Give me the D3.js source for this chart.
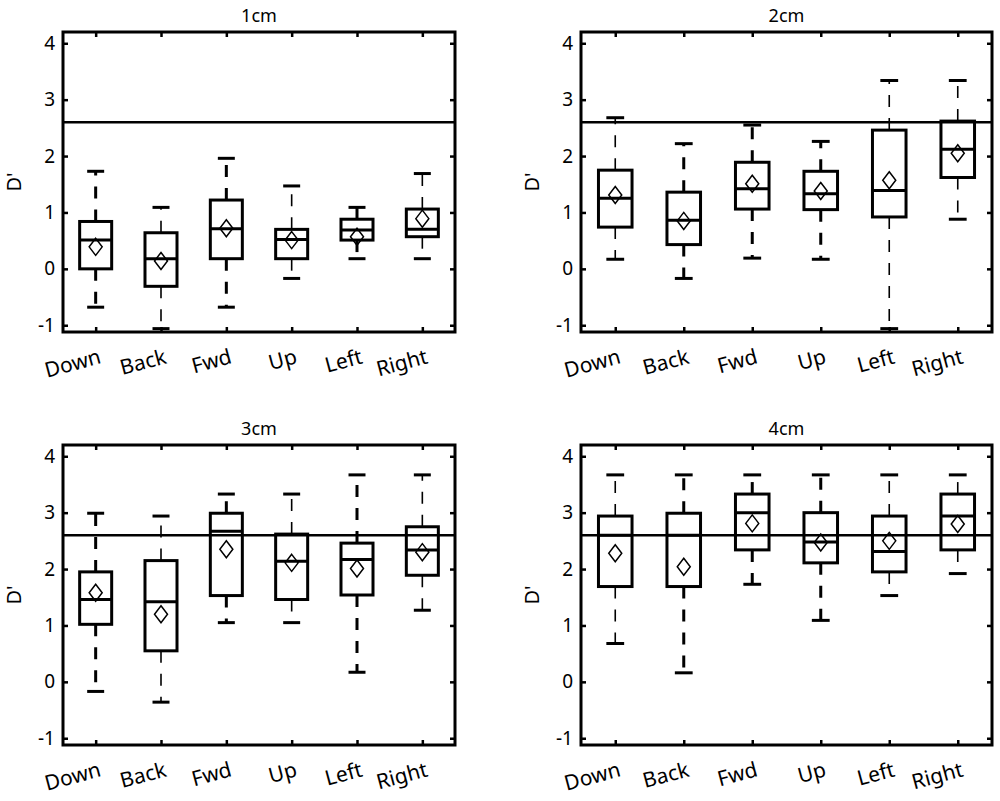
<!DOCTYPE html>
<html>
<head>
<meta charset="utf-8">
<script src="https://cdnjs.cloudflare.com/ajax/libs/d3/7.8.5/d3.min.js"></script>
<style>
    body { margin: 0; background: #fff; }
    svg { display: block; font-family: "Noto Sans", sans-serif; }
</style>
</head>
<body>
<svg id="chart" width="1000" height="801"></svg>
<script>

// data
var categories = ["Down", "Back", "Fwd", "Up", "Left", "Right"];
var panelTitles = ["1cm", "2cm", "3cm", "4cm"];
var yTicks = [-1, 0, 1, 2, 3, 4];
var threshold = 2.6;

var whiskerLow = [
    [-0.68, -1.06, -0.68, -0.17, 0.18, 0.18],
    [0.17, -0.17, 0.19, 0.17, -1.06, 0.88],
    [-0.17, -0.36, 1.05, 1.05, 0.17, 1.27],
    [0.68, 0.16, 1.73, 1.09, 1.53, 1.92]
];
var quartileLow = [
    [0.0, -0.31, 0.18, 0.18, 0.51, 0.57],
    [0.74, 0.43, 1.06, 1.05, 0.92, 1.62],
    [1.02, 0.55, 1.53, 1.46, 1.54, 1.89],
    [1.69, 1.69, 2.34, 2.11, 1.95, 2.34]
];
var medians = [
    [0.51, 0.18, 0.71, 0.52, 0.69, 0.70],
    [1.25, 0.86, 1.42, 1.33, 1.39, 2.12],
    [1.46, 1.42, 2.67, 2.14, 2.17, 2.34],
    [2.6, 2.6, 3.0, 2.48, 2.31, 2.94]
];
var quartileHigh = [
    [0.84, 0.64, 1.22, 0.70, 0.88, 1.06],
    [1.75, 1.36, 1.89, 1.73, 2.46, 2.62],
    [1.95, 2.15, 2.99, 2.62, 2.46, 2.75],
    [2.94, 2.99, 3.33, 3.0, 2.94, 3.33]
];
var whiskerHigh = [
    [1.73, 1.09, 1.96, 1.47, 1.09, 1.69],
    [2.68, 2.22, 2.55, 2.26, 3.34, 3.34],
    [2.99, 2.94, 3.33, 3.33, 3.67, 3.67],
    [3.67, 3.67, 3.67, 3.67, 3.67, 3.67]
];
var means = [
    [0.39, 0.14, 0.72, 0.51, 0.57, 0.89],
    [1.31, 0.85, 1.51, 1.38, 1.57, 2.05],
    [1.58, 1.20, 2.35, 2.11, 2.01, 2.30],
    [2.28, 2.04, 2.81, 2.47, 2.50, 2.80]
];

// stroke weight of the dashed whiskers (1 = heavy, 0 = light)
var heavyWhisker = [
    [1, 0, 1, 0, 1, 0],
    [0, 1, 1, 1, 0, 0],
    [1, 0, 1, 0, 1, 0],
    [0, 1, 1, 1, 0, 0]
];


class BoxPanel {

    constructor(svg, idx, rect) {

        this.svg = svg;
        this.idx = idx;
        this.width = rect.width;
        this.height = rect.height;

        this.g = svg.append("g")
            .attr("transform", "translate(" + rect.left + "," + rect.top + ")");

        // parameters
        this.boxHalf = 0.245;
        this.capHalf = 0.13;
        this.tickLen = 5;
    }

    setup() {
        this.computeScales();
        this.drawThreshold();
        this.drawBoxes();
        this.drawFrame();
        this.drawAxes();
        this.drawLabels();
    }

    computeScales() {
        this.x = d3.scaleLinear()
            .domain([0.5, categories.length + 0.5])
            .range([0, this.width]);
        this.y = d3.scaleLinear()
            .domain([-1.12, 4.2])
            .range([this.height, 0]);
    }

    drawThreshold() {
        this.g.append("line")
            .attr("x1", 0)
            .attr("x2", this.width)
            .attr("y1", this.y(threshold))
            .attr("y2", this.y(threshold))
            .attr("stroke", "black")
            .attr("stroke-width", 2.5);
    }

    drawBoxes() {

        var x = this.x, y = this.y, p = this.idx;
        var self = this;

        categories.forEach(function (cat, i) {

            var c = i + 1;
            var cx = x(c);
            var box = self.g.append("g");
            var w = heavyWhisker[p][i] ? 3 : 1.6;

            // whiskers
            [[quartileHigh[p][i], whiskerHigh[p][i]], [quartileLow[p][i], whiskerLow[p][i]]].forEach(function (seg) {
                box.append("line")
                    .attr("x1", cx).attr("x2", cx)
                    .attr("y1", y(seg[0])).attr("y2", y(seg[1]))
                    .attr("stroke", "black")
                    .attr("stroke-width", w)
                    .attr("stroke-dasharray", "12,11");

                box.append("line")
                    .attr("x1", x(c - self.capHalf)).attr("x2", x(c + self.capHalf))
                    .attr("y1", y(seg[1])).attr("y2", y(seg[1]))
                    .attr("stroke", "black")
                    .attr("stroke-width", 3);
            });

            // box
            box.append("rect")
                .attr("x", x(c - self.boxHalf))
                .attr("y", y(quartileHigh[p][i]))
                .attr("width", x(c + self.boxHalf) - x(c - self.boxHalf))
                .attr("height", y(quartileLow[p][i]) - y(quartileHigh[p][i]))
                .attr("fill", "none")
                .attr("stroke", "black")
                .attr("stroke-width", 3);

            // median
            box.append("line")
                .attr("x1", x(c - self.boxHalf)).attr("x2", x(c + self.boxHalf))
                .attr("y1", y(medians[p][i])).attr("y2", y(medians[p][i]))
                .attr("stroke", "black")
                .attr("stroke-width", 3);

            // mean marker
            var my = y(means[p][i]);
            var dx = 6.5, dy = 8.5;
            box.append("path")
                .attr("d", "M" + cx + "," + (my - dy) + "L" + (cx + dx) + "," + my +
                    "L" + cx + "," + (my + dy) + "L" + (cx - dx) + "," + my + "Z")
                .attr("fill", "none")
                .attr("stroke", "black")
                .attr("stroke-width", 1.5);
        });
    }

    drawFrame() {
        this.g.append("rect")
            .attr("x", 0).attr("y", 0)
            .attr("width", this.width).attr("height", this.height)
            .attr("fill", "none")
            .attr("stroke", "black")
            .attr("stroke-width", 3);
    }

    drawAxes() {

        var xVals = d3.range(1, categories.length + 1);

        var left = this.g.append("g")
            .call(d3.axisLeft(this.y).tickValues(yTicks).tickSize(-this.tickLen)
                .tickPadding(8).tickFormat(function (d) { return String(d); }));

        var right = this.g.append("g")
            .attr("transform", "translate(" + this.width + ",0)")
            .call(d3.axisRight(this.y).tickValues(yTicks).tickSize(-this.tickLen).tickFormat(""));

        var top = this.g.append("g")
            .call(d3.axisTop(this.x).tickValues(xVals).tickSize(-this.tickLen).tickFormat(""));

        var bottom = this.g.append("g")
            .attr("transform", "translate(0," + this.height + ")")
            .call(d3.axisBottom(this.x).tickValues(xVals).tickSize(-this.tickLen)
                .tickFormat(function (d) { return categories[d - 1]; }));

        [left, right, top, bottom].forEach(function (a) {
            a.select(".domain").remove();
            a.attr("font-family", null).attr("font-size", null);
            a.selectAll(".tick line").attr("stroke", "black").attr("stroke-width", 2.5);
            a.selectAll("text").attr("fill", "black");
        });

        left.selectAll("text").attr("font-size", 19);

        bottom.selectAll("text")
            .attr("x", 0)
            .attr("y", 0)
            .attr("dy", 0)
            .attr("text-anchor", "end")
            .attr("font-size", 21)
            .attr("transform", "translate(6,31) rotate(-15)");
    }

    drawLabels() {

        this.g.append("text")
            .attr("x", this.width / 2)
            .attr("y", -10)
            .attr("text-anchor", "middle")
            .attr("font-size", 18)
            .text(panelTitles[this.idx]);

        this.g.append("text")
            .attr("transform", "translate(-49," + this.height / 2 + ") rotate(-90)")
            .attr("text-anchor", "middle")
            .attr("dy", "0.35em")
            .attr("font-size", 20)
            .text("D'");
    }
}


var svg = d3.select("#chart");

var panelRects = [
    { left: 63, top: 32, width: 392, height: 300 },
    { left: 581, top: 32, width: 411, height: 300 },
    { left: 63, top: 445, width: 392, height: 300 },
    { left: 581, top: 445, width: 411, height: 300 }
];

panelRects.forEach(function (rect, idx) {
    new BoxPanel(svg, idx, rect).setup();
});

</script>
</body>
</html>
